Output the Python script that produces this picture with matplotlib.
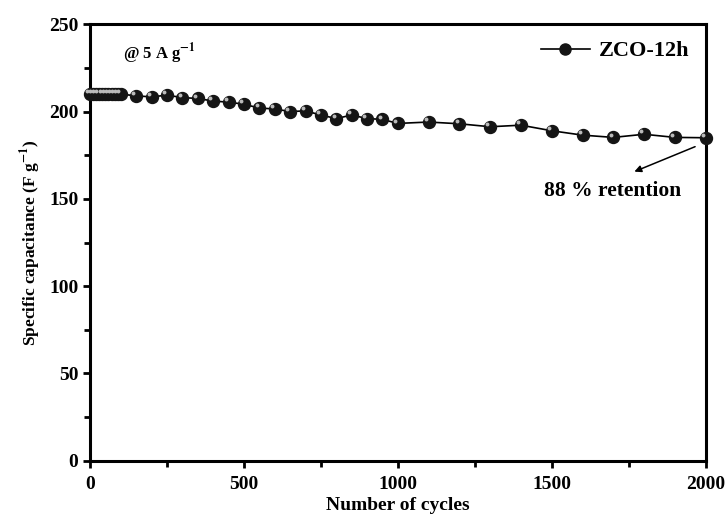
import numpy as np
import matplotlib.pyplot as plt
from matplotlib.transforms import ScaledTranslation

plt.rcParams['font.family'] = 'Liberation Serif'
plt.rcParams['font.weight'] = 'bold'
plt.rcParams['mathtext.fontset'] = 'stix'

# first 100 cycles sampled densely, then every 50 / 100 cycles
cycles_start = [0, 10, 20, 30, 40, 50, 60, 70, 80, 90, 100]
cap_start = [210, 210, 210, 210, 210, 210, 210, 210, 210, 210, 210]

cycles_rest = [150, 200, 250, 300, 350, 400, 450, 500, 550, 600, 650, 700,
               750, 800, 850, 900, 950, 1000, 1100, 1200, 1300, 1400, 1500,
               1600, 1700, 1800, 1900, 2000]
cap_rest = [209, 208.4, 209.4, 208, 207.5, 206, 205.4, 204.2, 202, 201.5, 200, 200.4,
            198, 196, 198, 196, 195.5, 193.2, 194, 193, 191.3, 192.2, 189,
            186.5, 185.2, 187, 185.2, 185]

cycles = np.array(cycles_start + cycles_rest)
capacitance = np.array(cap_start + cap_rest)

fig = plt.figure(figsize=(7.26, 5.16), dpi=100)
ax = fig.add_axes([0.124, 0.107, 0.848, 0.846])

ax.plot(cycles, capacitance, '-', color='black', lw=1.2, marker='o', ms=8.6,
        mfc='#151515', mec='#151515', label='ZCO-12h', clip_on=False, zorder=3)
# little highlight on each ball
shift = ScaledTranslation(-2.0 / 72, 2.0 / 72, fig.dpi_scale_trans)
ax.plot(cycles, capacitance, 'o', ms=2.8, color='#bbbbbb', mec='none',
        transform=ax.transData + shift, clip_on=False, zorder=4)

ax.set_xlim(0, 2000)
ax.set_ylim(0, 250)
ax.set_xticks([0, 500, 1000, 1500, 2000])
ax.set_xticks([250, 750, 1250, 1750], minor=True)
ax.set_yticks([0, 50, 100, 150, 200, 250])
ax.set_yticks([25, 75, 125, 175, 225], minor=True)

for s in ax.spines.values():
    s.set_linewidth(2.2)
ax.tick_params(which='major', direction='out', length=5, width=2, labelsize=14)
ax.tick_params(axis='x', which='major', pad=6)
ax.tick_params(which='minor', direction='out', length=4, width=2)
ax.tick_params(top=False, right=False, which='both')

ax.set_xlabel('Number of cycles', fontsize=14, fontweight='bold', labelpad=3)
ax.set_ylabel(r'Specific capacitance (F g$^{\mathbf{-1}}$)', fontsize=12.5,
              fontweight='bold', labelpad=4)

ax.text(107, 233, r'@ 5 A g$^{\mathbf{-1}}$', fontsize=12, fontweight='bold',
        va='center', ha='left')

ax.annotate('', xy=(1760, 165), xytext=(1974, 180.5),
            arrowprops=dict(arrowstyle='-|>', color='black', lw=1.1,
                            mutation_scale=10))
ax.text(1698, 154.5, '88 % retention', fontsize=15.5, fontweight='bold',
        ha='center', va='center')

leg = ax.legend(loc='upper right', frameon=False, fontsize=16,
                handlelength=2.2, borderaxespad=0.35, handletextpad=0.4)
for h in leg.legend_handles:
    h.set_markersize(8)

fig.savefig('out.png', dpi=100)
